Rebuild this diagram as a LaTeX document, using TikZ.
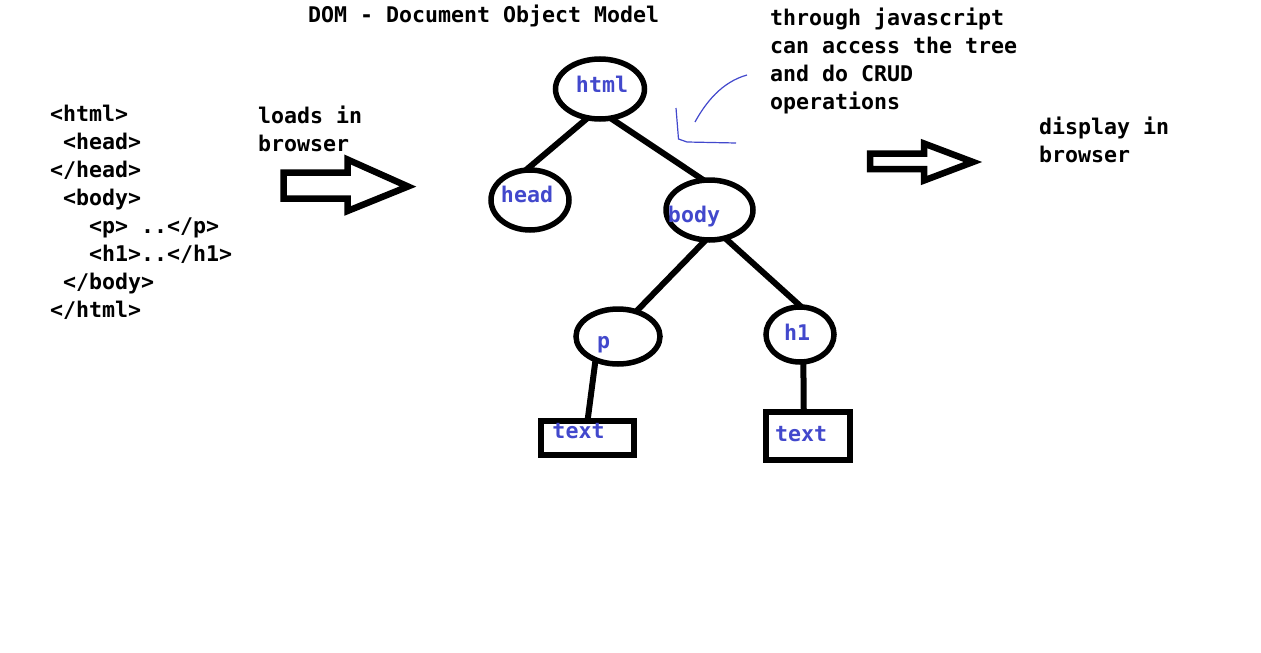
\documentclass[tikz,border=0pt]{standalone}
\usepackage{fontspec}
\setmonofont{DejaVu Sans Mono}
\usetikzlibrary{shapes.geometric}
\definecolor{domblue}{RGB}{66,72,204}
\begin{document}
\begin{tikzpicture}[x=1pt,y=-1pt]
    \newcommand{\indentch}[0]{\hphantom{0}}

    \tikzstyle{txt}=[
      font=\ttfamily\bfseries\fontsize{21.6}{28}\selectfont,
      inner sep=0,
      outer sep=0,
      align=left,
    ]
    \tikzstyle{tag}=[
      txt,
      text=domblue,
      text height=16pt,
      text depth=0pt,
    ]
    \tikzstyle{elem}=[
      ellipse,
      draw=black,
      line width=5.5pt,
      inner sep=0,
      outer sep=0,
    ]
    \tikzstyle{leaf}=[
      rectangle,
      draw=black,
      line width=6pt,
      inner sep=0,
      outer sep=0,
    ]
    \tikzstyle{tedge}=[line width=6pt,draw=black]
    \tikzstyle{bigarrow}=[line width=6.5pt,draw=black,line join=miter]

    \useasboundingbox (0,0) rectangle (1261,653);

    % texts (base = last line)
    \node[txt,anchor=base west] (title) at (308,22) {DOM - Document Object Model};
    \node[txt,anchor=base west] (src) at (50,317) {
      <html>\\
      \indentch<head>\\
      </head>\\
      \indentch<body>\\
      \indentch\indentch\indentch<p> ..</p>\\
      \indentch\indentch\indentch<h1>..</h1>\\
      \indentch</body>\\
      </html>
    };
    \node[txt,anchor=base west] (loads) at (258,151) {loads in\\browser};
    \node[txt,anchor=base west] (js) at (770,109) {through javascript\\can access the tree\\and do CRUD\\operations};
    \node[txt,anchor=base west] (disp) at (1039,162) {display in\\browser};

    % tree
    \node[elem,minimum width=89,minimum height=60,label={[tag,xshift=2,yshift=5]center:html}] (html) at (600,89) {};
    \node[elem,minimum width=78,minimum height=60,label={[tag,xshift=-3,yshift=6]center:head}] (head) at (530,200) {};
    \node[elem,minimum width=87,minimum height=60,label={[tag,xshift=-15.5,yshift=-4]center:body}] (body) at (709.5,210) {};
    \node[elem,minimum width=84,minimum height=55,label={[tag,xshift=-14.5,yshift=-3.5]center:p}] (p) at (618,336.5) {};
    \node[elem,minimum width=68,minimum height=55,label={[tag,xshift=-3,yshift=2.5]center:h1}] (h1) at (800,334.5) {};
    \node[leaf,minimum width=93,minimum height=34,label={[tag,xshift=-9,yshift=8]center:text}] (ptext) at (587.5,438) {};
    \node[leaf,minimum width=84,minimum height=48,label={[tag,xshift=-7,yshift=3]center:text}] (htext) at (808,436) {};

    \draw[tedge] (html.247.5)--(head.98);
    \draw[tedge] (html.290)--(body.101.5);
    \draw[tedge] (body.263)--(p.54);
    \draw[tedge] (body.299)--(h1.87);
    \draw[tedge] (p.226.5)--(ptext.north);
    \draw[tedge] (h1.277)--(htext.100.5);

    % hollow arrows
    \draw[bigarrow] (283.5,172.5)--(347.5,172.5)--(347.5,159.5)--(408,186.5)--(347.5,211)--(347.5,198.5)--(283.5,198.5)--cycle;
    \draw[bigarrow] (870,153.5)--(924,153.5)--(924,143.5)--(973,162)--(924,180.5)--(924,169)--(870,169)--cycle;

    % scribble
    \draw[domblue,line width=1.2pt] (747,75) .. controls (722,82) and (706,102) .. (695,122);
    \draw[domblue,line width=1.2pt] (676,108)--(678.5,139)--(687,142)--(736,143);
  \end{tikzpicture}
\end{document}
